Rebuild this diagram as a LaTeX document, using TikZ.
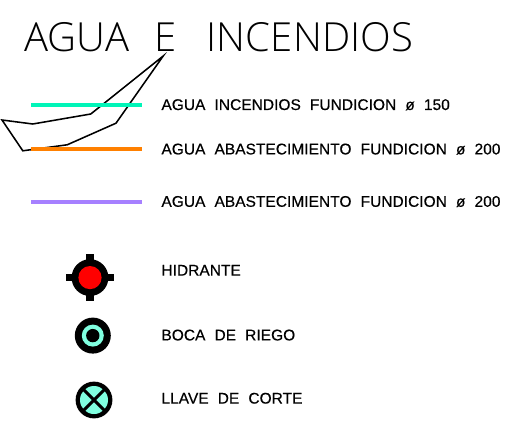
\documentclass[tikz,border=0pt]{standalone}
\usepackage{fontspec}
\setmainfont{Liberation Sans}
\newfontfamily\titlefont[WordSpace=2.4,LetterSpace=0.4]{Open Sans Light}
\newfontfamily\labelfont[LetterSpace=0.3,WordSpace=2.1,FakeBold=0.5]{Liberation Sans}
\definecolor{redagua}{HTML}{00F5B8}
\definecolor{redabasto}{HTML}{FF8000}
\definecolor{redlila}{HTML}{A680FF}
\definecolor{relleno}{HTML}{80FFE0}
\tikzset{
	leyenda/.style={anchor=base west,inner sep=0pt,font=\labelfont\fontsize{11pt}{13pt}\selectfont},
	tuberia/.style={line width=2.9pt},
	contorno/.style={line width=1.1pt,black,line join=miter}
}
\begin{document}
\begin{tikzpicture}
		\useasboundingbox (0,0) rectangle (12.725,10.7);
		
		\node[anchor=base west,inner sep=0pt,font=\titlefont\fontsize{28.5pt}{32pt}\selectfont] (titulo) at (0.6,9.4){AGUA E\hspace{3pt} INCENDIOS};
		
		\draw[contorno] (4.08,9.3) -- (2.27,7.85) -- (0.82,7.6) -- (0.05,7.7) -- (0.57,6.93) -- (1.68,7.08) -- (2.9,7.62) -- cycle;
		
		\coordinate (inicioA) at (0.78,8.08);
		\coordinate (finA) at (3.56,8.08);
		\coordinate (inicioB) at (0.78,6.97);
		\coordinate (finB) at (3.56,6.97);
		\coordinate (inicioC) at (0.78,5.66);
		\coordinate (finC) at (3.56,5.66);
		
		\draw[tuberia,redagua] (inicioA) -- (finA);
		\draw[tuberia,redabasto] (inicioB) -- (finB);
		\draw[tuberia,redlila] (inicioC) -- (finC);
		
		\node[leyenda] (textoA) at (4.03,7.95){AGUA INCENDIOS FUNDICION ø 150};
		\node[leyenda] (textoB) at (4.03,6.84){AGUA ABASTECIMIENTO FUNDICION ø 200};
		\node[leyenda] (textoC) at (4.03,5.53){AGUA ABASTECIMIENTO FUNDICION ø 200};
		
		\node[leyenda] (textoD) at (4.03,3.81){HIDRANTE};
		\node[leyenda] (textoE) at (4.03,2.19){BOCA DE RIEGO};
		\node[leyenda] (textoF) at (4.03,0.61){LLAVE DE CORTE};
		
		\fill[black] (1.66,3.67) rectangle (2.84,3.85);
		\fill[black] (2.16,3.17) rectangle (2.34,4.35);
		\fill[black] (2.25,3.76) circle (0.46);
		\fill[red] (2.25,3.76) circle (0.29);
		
		\fill[black] (2.32,2.31) circle (0.45);
		\fill[relleno] (2.32,2.31) circle (0.275);
		\fill[black] (2.32,2.31) circle (0.167);
		
		\fill[black] (2.35,0.7) circle (0.46);
		\fill[relleno] (2.35,0.7) circle (0.35);
		\draw[line width=2.2pt,black] (2.08,0.97) -- (2.62,0.43);
		\draw[line width=2.2pt,black] (2.08,0.43) -- (2.62,0.97);
		
		\end{tikzpicture}
\end{document}
